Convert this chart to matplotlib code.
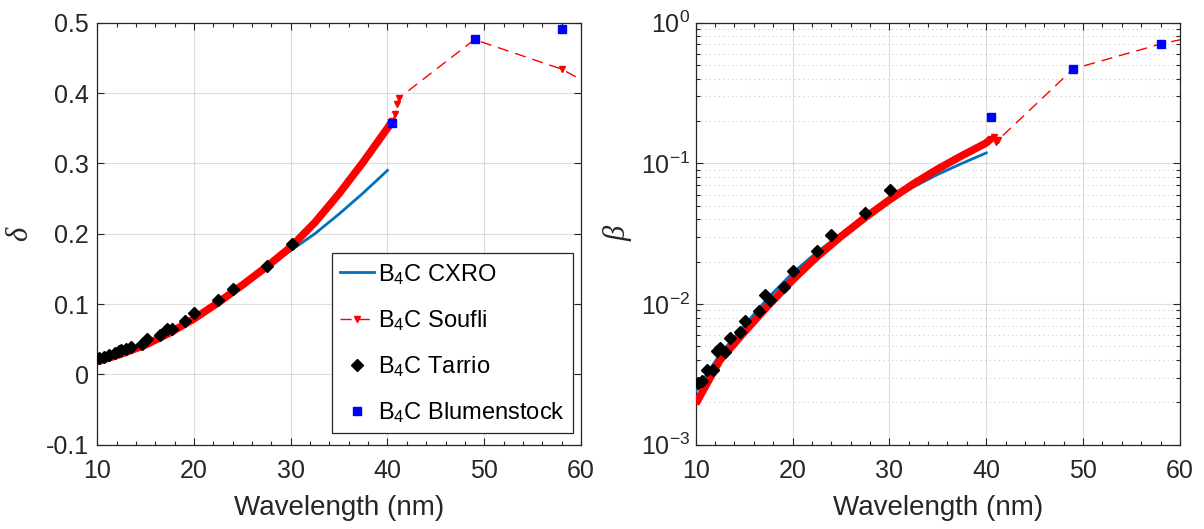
import numpy as np
import matplotlib
matplotlib.use("Agg")
from matplotlib import pyplot as plt
from matplotlib.ticker import MultipleLocator, LogLocator, NullFormatter

plt.rcParams['font.family'] = ['Liberation Sans', 'DejaVu Sans']
plt.rcParams['mathtext.default'] = 'regular'

# Soufli (dense part + sparse tail)
wl_soufli = [10, 12.5, 15, 17.5, 20, 22.5, 25, 27.5, 30, 32.5, 35, 37.5, 40, 40.5]
delta_soufli = [0.018, 0.029, 0.042, 0.059, 0.079, 0.102, 0.127, 0.153, 0.181, 0.216, 0.257, 0.302, 0.350, 0.360]
beta_soufli = [0.00195, 0.00398, 0.0063, 0.00977, 0.0148, 0.0216, 0.0302, 0.0412, 0.0550, 0.0716, 0.0912, 0.1135, 0.1396, 0.150]
wl_tail = [40.5, 40.8, 41.0, 41.2, 49.0, 58.0, 62.0]
delta_tail = [0.360, 0.370, 0.385, 0.393, 0.476, 0.434, 0.404]
beta_tail = [0.150, 0.154, 0.142, 0.146, 0.470, 0.705, 0.81]

# CXRO
wl_cxro = [10, 12.5, 15, 17.5, 20, 22.5, 25, 27.5, 30, 32.5, 35, 37.5, 40]
delta_cxro = [0.019, 0.030, 0.044, 0.061, 0.081, 0.104, 0.128, 0.152, 0.176, 0.200, 0.228, 0.258, 0.290]
beta_cxro = [0.0024, 0.0044, 0.0070, 0.0111, 0.0166, 0.0233, 0.0315, 0.042, 0.054, 0.068, 0.0835, 0.100, 0.1186]

# Tarrio
wl_tarrio = [10.2, 10.7, 11.2, 11.8, 12.2, 12.5, 13.0, 13.5, 14.6, 15.1, 16.5, 17.2, 17.7, 19.1, 20.0, 22.5, 24.0, 27.5, 30.1]
delta_tarrio = [0.0228, 0.024, 0.0275, 0.030, 0.0336, 0.034, 0.0356, 0.039, 0.0427, 0.0498, 0.056, 0.0645,
                0.0645, 0.0758, 0.0877, 0.1057, 0.1218, 0.1545, 0.185]
beta_tarrio = [0.00273, 0.00282, 0.00341, 0.00341, 0.00467, 0.00484, 0.00459, 0.00571, 0.00630, 0.00763,
               0.00899, 0.0115, 0.0107, 0.0132, 0.0173, 0.0238, 0.0311, 0.0444, 0.065]

# Blumenstock
wl_blum = [40.5, 49.0, 58.0]
delta_blum = [0.358, 0.477, 0.491]
beta_blum = [0.214, 0.470, 0.705]

ytick_vals = [-0.1, 0, 0.1, 0.2, 0.3, 0.4, 0.5]
ytick_labels = ['-0.1', '0', '0.1', '0.2', '0.3', '0.4', '0.5']

dark = '#262626'
cxro_col = '#0072BD'

fig = plt.figure(figsize=(12.04, 5.29), dpi=100)
ax1 = fig.add_axes([0.0808, 0.1594, 0.4017, 0.7977])
ax2 = fig.add_axes([0.5778, 0.1594, 0.4022, 0.7977])


def draw(ax, dense, cxro, tail, tarrio, blum):
    ax.plot(wl_cxro, cxro, color=cxro_col, lw=2, label=r'B$_4$C CXRO', zorder=3)
    ax.plot(wl_soufli, dense, color='red', lw=5.5, solid_capstyle='butt',
            solid_joinstyle='round', zorder=4)
    ax.plot(wl_tail, tail, color='red', lw=1, ls=(0, (8, 5)), marker='v', ms=4,
            label=r'B$_4$C Soufli', zorder=4)
    ax.plot(wl_tarrio, tarrio, ls='none', marker='D', ms=6, color='black',
            label=r'B$_4$C Tarrio', zorder=5)
    ax.plot(wl_blum, blum, ls='none', marker='s', ms=6, color='blue',
            label=r'B$_4$C Blumenstock', zorder=6)
    ax.set_xlim(10, 60)
    ax.xaxis.set_minor_locator(MultipleLocator(2))
    ax.set_xticks([10, 20, 30, 40, 50, 60])
    ax.grid(True, which='major', color=dark, alpha=0.15, lw=0.8)
    ax.tick_params(which='both', direction='in', top=True, right=True, colors=dark,
                   labelcolor=dark, labelsize=18, width=0.8)
    ax.tick_params(which='major', length=5)
    ax.tick_params(which='minor', length=3)
    ax.tick_params(axis='x', pad=10)
    for s in ax.spines.values():
        s.set_color(dark)
        s.set_linewidth(0.9)
    ax.set_xlabel('Wavelength (nm)', fontsize=20, color=dark)
    ax.xaxis.set_label_coords(0.5, -0.12)


draw(ax1, delta_soufli, delta_cxro, delta_tail, delta_tarrio, delta_blum)
ax1.set_ylim(-0.1, 0.5)
ax1.set_yticks(ytick_vals, ytick_labels)
ax1.tick_params(axis='y', pad=6)
ax1.set_ylabel('δ', fontsize=22, color=dark, family='Liberation Serif', style='italic')
ax1.yaxis.set_label_coords(-0.131, 0.5)

leg = ax1.legend(loc='lower left', bbox_to_anchor=(0.4846, 0.027), fontsize=17,
                 handlelength=1.45, handletextpad=0.15, borderpad=0.35,
                 labelspacing=0.9, borderaxespad=0, fancybox=False, framealpha=1,
                 edgecolor=dark, numpoints=1)
leg.get_frame().set_linewidth(0.9)
for t in leg.get_texts():
    t.set_color('black')

draw(ax2, beta_soufli, beta_cxro, beta_tail, beta_tarrio, beta_blum)
ax2.set_yscale('log')
ax2.set_ylim(1e-3, 1)
ax2.yaxis.set_major_locator(LogLocator(base=10, numticks=10))
ax2.yaxis.set_minor_locator(LogLocator(base=10, subs=np.arange(2, 10), numticks=20))
ax2.yaxis.set_minor_formatter(NullFormatter())
ax2.yaxis.grid(True, which='minor', color=dark, alpha=0.25, lw=0.8, ls=(0, (1, 3)))
ax2.tick_params(axis='y', pad=4)
ax2.set_ylabel('β', fontsize=22, color=dark, family='Liberation Serif', style='italic')
ax2.yaxis.set_label_coords(-0.1295, 0.5)

fig.savefig('out.png', dpi=100, facecolor='white')
